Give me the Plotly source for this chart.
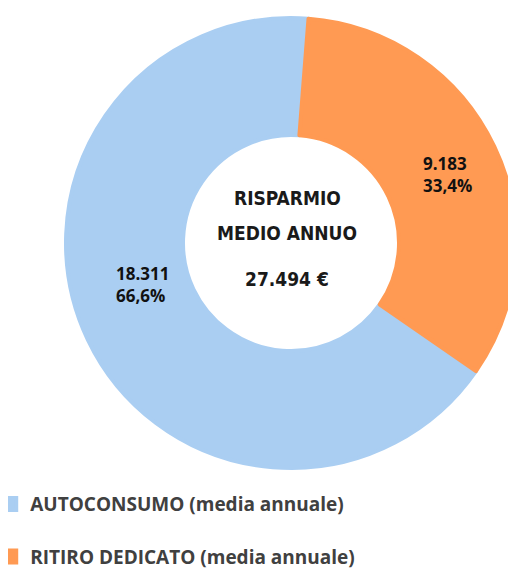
import plotly.graph_objects as go

labels = ["AUTOCONSUMO (media annuale)", "RITIRO DEDICATO (media annuale)"]
values = [18311, 9183]
colors = ["#AACEF2", "#FF9A53"]
center_title = ["RISPARMIO", "MEDIO ANNUO"]
center_total = "27.494 €"

# page body has an 8px margin, so the figure is drawn 8px smaller
W, H = 508, 563
narrow = "DejaVu Sans Condensed"

total = sum(values)


def fmt_int(v):
    return f"{v:,.0f}".replace(",", ".")


def fmt_pct(v):
    return f"{100 * v / total:.1f}%".replace(".", ",")


fig = go.Figure()
fig.add_trace(go.Pie(
    labels=[" <br>" + l for l in labels],
    values=values,
    marker=dict(colors=colors, line=dict(width=4, color=colors)),
    hole=0.48,
    sort=False,
    direction="clockwise",
    rotation=124.7,
    textinfo="none",
    hoverinfo="label+value+percent",
    domain=dict(x=[58 / W, 1.0], y=[1 - 461 / H, 1 - 9 / H]),
    showlegend=True,
))

# slice labels
label_pos = [(134, 277), (439, 166)]
for v, (px, py) in zip(values, label_pos):
    fig.add_annotation(
        x=px / W, y=1 - py / H, xref="paper", yref="paper",
        xanchor="center", yanchor="middle",
        text=f"<b>{fmt_int(v)}<br>{fmt_pct(v)}</b>", showarrow=False,
        font=dict(family="Open Sans", size=17, color="#111111", weight="bold"),
        align="left",
    )

# center text
cx = 279 / W
for txt, py in zip(center_title + [center_total], [190, 225, 271]):
    fig.add_annotation(
        x=cx, y=1 - py / H, xref="paper", yref="paper",
        xanchor="center", yanchor="middle",
        text=txt, showarrow=False,
        font=dict(family=narrow, size=19, color="#1a1a1a", weight="bold"),
    )

fig.update_layout(
    width=W, height=H,
    margin=dict(l=0, r=0, t=0, b=0, autoexpand=False),
    paper_bgcolor="white",
    plot_bgcolor="white",
    separators=",.",
    legend=dict(
        x=-0.035, y=-0.008, xanchor="left", yanchor="bottom",
        orientation="v", valign="bottom",
        font=dict(family="Open Sans", size=19, color="#404040", weight="bold"),
        bgcolor="rgba(0,0,0,0)",
        traceorder="normal",
    ),
)

fig.write_html("out.html")
